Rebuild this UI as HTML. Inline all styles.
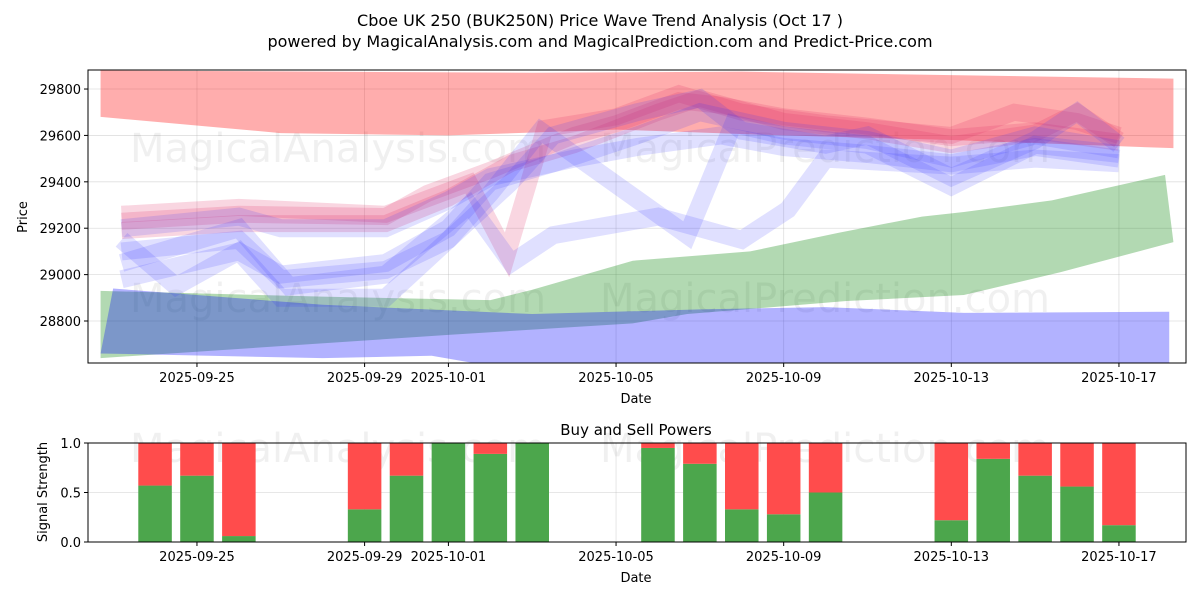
<!DOCTYPE html>
<html><head><meta charset="utf-8"><style>
body{margin:0;background:#fff;font-family:"Liberation Sans","DejaVu Sans",sans-serif}
svg text{font-family:"DejaVu Sans","Liberation Sans",sans-serif}
</style></head><body>
<svg id="chart" width="1200" height="600" xmlns="http://www.w3.org/2000/svg">
<text x="600" y="26" text-anchor="middle" font-size="16">Cboe UK 250 (BUK250N) Price Wave Trend Analysis (Oct 17 )</text>
<text x="600" y="47" text-anchor="middle" font-size="16">powered by MagicalAnalysis.com and MagicalPrediction.com and Predict-Price.com</text>
<g id="topPanel"></g>
<g id="botPanel"></g>
</svg>
<script>
const NS="http://www.w3.org/2000/svg";
// ---- data ----
const tickDates=["2025-09-25","2025-09-29","2025-10-01","2025-10-05","2025-10-09","2025-10-13","2025-10-17"];
const tickDays=[0,4,6,10,14,18,22];
const priceTicks=[28800,29000,29200,29400,29600,29800];
const redUpperD=[-2.3,3,8,13,18,23.3];
const redUpper=[29880,29875,29870,29875,29860,29845];
const redLowerD=[23.3,18,14,10,6,2,-2.3];
const redLower=[29545,29580,29600,29625,29600,29610,29680];
const greenUpperD=[-2.3,3,7,8,10.4,13.2,15.3,17.3,18.3,20.4,23.1];
const greenUpper=[28930,28905,28890,28935,29060,29100,29180,29250,29270,29320,29430];
const greenLowerD=[23.3,20.6,18.3,15.5,11.7,10.4,6,-2.3];
const greenLower=[29140,29010,28912,28886,28830,28790,28740,28640];
const blueUpperD=[-2.0,3,8,12,15,18.3,23.2];
const blueUpper=[28940,28870,28830,28850,28860,28835,28840];
const blueLowerD=[23.2,9,6.6,5.6,3,-2.3];
const blueLower=[28550,28560,28619,28650,28640,28660];
const pinkWaves=[
 [[-1.8,29230],[1,29260],[4.5,29250],[5.5,29350],[7,29450],[9,29600],[10,29650],[11.5,29750],[12.5,29730],[14,29680],[16,29640],[18,29590],[20,29620],[22,29570]],
 [[-1.8,29260],[1,29290],[4.5,29260],[6.5,29395],[7.4,29085],[8.3,29630],[10,29680],[11.5,29780],[13,29700],[15,29650],[18,29600],[19.5,29700],[21,29660],[22,29600]],
 [[-1.8,29190],[1,29220],[4.5,29220],[6,29330],[7.5,29480],[9,29560],[11,29700],[12,29760],[14,29660],[16,29620],[18,29560],[20,29610],[21,29700],[22,29580]]
];
const blueWaves=[
 [[-1.8,29200],[1,29250],[2,29200],[4.5,29200],[6,29320],[7,29420],[9,29500],[10.5,29550],[12.5,29600],[14,29550],[16,29520],[18,29480],[20,29550],[22,29500]],
 [[-1.8,29100],[1,29150],[2,28980],[4.5,29020],[6,29150],[7.5,29400],[8.5,29600],[10.5,29700],[12,29760],[13,29620],[15,29560],[16,29600],[18,29420],[20,29580],[21,29700],[22,29560]],
 [[-1.8,29150],[-0.5,28950],[1,29100],[2,28900],[4.5,28900],[6,29150],[7,29350],[8.2,29620],[11.7,29170],[12.8,29650],[14,29600],[16,29560],[18,29380],[20,29560],[22,29520]],
 [[-1.8,29050],[1,29200],[2.2,28950],[4.5,29000],[6.5,29300],[7.5,29050],[8.5,29170],[11,29250],[12,29200],[13,29150],[14.1,29280],[15,29500],[18,29470],[20,29500],[22,29480]],
 [[-1.8,28980],[1,29100],[2,29000],[4.5,29050],[6,29200],[7,29400],[8.5,29480],[10.5,29600],[12,29700],[14,29620],[16,29580],[18,29500],[20,29600],[22,29540]]
];
const barDays=[-1,0,1,4,5,6,7,8,11,12,13,14,15,18,19,20,21,22];
const buyVals=[0.57,0.67,0.06,0.33,0.67,1.0,0.89,1.0,0.95,0.79,0.33,0.28,0.5,0.22,0.84,0.67,0.56,0.17];
const sigTicks=[0,0.5,1.0];
// ---- axes ----
const L=88,R=1186,T1=70,B1=363,T2=443,B2=542;
const dMin=-2.6,dMax=23.6;
const X=d=>L+(d-dMin)/(dMax-dMin)*(R-L);
const pMin=28619,pMax=29882;
const Y=p=>B1-(p-pMin)/(pMax-pMin)*(B1-T1);
const Y2=v=>B2-v*(B2-T2);
function el(tag,attrs,parent,name,inter){const e=document.createElementNS(NS,tag);for(const k in attrs)e.setAttribute(k,attrs[k]);


parent.appendChild(e);return e;}
const topG=document.getElementById('topPanel'),botG=document.getElementById('botPanel');
const defs=el('defs',{},topG,'defs',false);
const cp=el('clipPath',{id:'c1'},defs,'clip',false);
el('rect',{x:L,y:T1,width:R-L,height:B1-T1},cp,'clip-rect',false);
// grid
tickDays.forEach((d,i)=>{el('line',{x1:X(d),x2:X(d),y1:T1,y2:B1,stroke:'#b0b0b0','stroke-opacity':0.4,'stroke-width':0.8},topG,'x-grid-line',false);
 el('line',{x1:X(d),x2:X(d),y1:T2,y2:B2,stroke:'#b0b0b0','stroke-opacity':0.4,'stroke-width':0.8},botG,'x-grid-line',false);});
priceTicks.forEach(p=>el('line',{x1:L,x2:R,y1:Y(p),y2:Y(p),stroke:'#b0b0b0','stroke-opacity':0.4,'stroke-width':0.8},topG,'y-grid-line',false));
sigTicks.forEach(v=>el('line',{x1:L,x2:R,y1:Y2(v),y2:Y2(v),stroke:'#b0b0b0','stroke-opacity':0.4,'stroke-width':0.8},botG,'y-grid-line',false));
// watermarks
[[130,162,'MagicalAnalysis.com'],[600,162,'MagicalPrediction.com'],[130,312,'MagicalAnalysis.com'],[600,312,'MagicalPrediction.com'],[130,462,'MagicalAnalysis.com'],[600,462,'MagicalPrediction.com']].forEach(w=>{
 const t=el('text',{x:w[0],y:w[1],'font-size':40,fill:'#000','fill-opacity':0.06},topG,'watermark',false);t.textContent=w[2];});
const g=el('g',{'clip-path':'url(#c1)'},topG,'plot-area',false);
function band(uD,u,lD,l,fill,op,name){const pts=uD.map((d,i)=>X(d)+','+Y(u[i])).concat(lD.map((d,i)=>X(d)+','+Y(l[i])));
 el('polygon',{points:pts.join(' '),fill:fill,'fill-opacity':op},g,name,false);}
band(redUpperD,redUpper,redLowerD,redLower,'#ff0000',0.32,'red-band');
band(greenUpperD,greenUpper,greenLowerD,greenLower,'#008000',0.3,'green-band');
band(blueUpperD,blueUpper,blueLowerD,blueLower,'#0000ff',0.3,'blue-band');
function wave(w,col,op,sw,name){el('polyline',{points:w.map(p=>X(p[0])+','+Y(p[1])).join(' '),fill:'none',stroke:col,'stroke-opacity':op,'stroke-width':sw,'stroke-linejoin':'miter'},g,name,false);}
pinkWaves.forEach(w=>wave(w,'#e0306a',0.2,17,'pink-wave'));
blueWaves.forEach(w=>wave(w,'#3030ff',0.15,18,'blue-wave'));
// top axes frame & ticks
el('rect',{x:L,y:T1,width:R-L,height:B1-T1,fill:'none',stroke:'#000','stroke-width':1},topG,'price-axes-frame',false);
tickDays.forEach((d,i)=>{el('line',{x1:X(d),x2:X(d),y1:B1,y2:B1+4,stroke:'#000'},topG,'x-tick',false);
 const t=el('text',{x:X(d),y:B1+19,'text-anchor':'middle','font-size':13},topG,'x-tick-label',false);t.textContent=tickDates[i];
 el('line',{x1:X(d),x2:X(d),y1:B2,y2:B2+4,stroke:'#000'},botG,'x-tick',false);
 const t2=el('text',{x:X(d),y:B2+19,'text-anchor':'middle','font-size':13},botG,'x-tick-label',false);t2.textContent=tickDates[i];});
priceTicks.forEach(p=>{el('line',{x1:L-4,x2:L,y1:Y(p),y2:Y(p),stroke:'#000'},topG,'y-tick',false);
 const t=el('text',{x:L-7,y:Y(p)+5,'text-anchor':'end','font-size':13},topG,'y-tick-label',false);t.textContent=p;});
let t=el('text',{x:636,y:403,'text-anchor':'middle','font-size':13},topG,'x-axis-title',false);t.textContent='Date';
t=el('text',{x:27,y:217,'text-anchor':'middle','font-size':13,transform:'rotate(-90 27 217)'},topG,'y-axis-title',false);t.textContent='Price';
// bottom bars
const bw=0.8*(X(1)-X(0));
barDays.forEach((d,i)=>{const v=buyVals[i];
 el('rect',{x:X(d)-bw/2,y:Y2(v),width:bw,height:Y2(0)-Y2(v),fill:'#4ca64c'},botG,'buy-bar',false);
 el('rect',{x:X(d)-bw/2,y:Y2(1),width:bw,height:Y2(v)-Y2(1),fill:'#ff4c4c'},botG,'sell-bar',false);});
el('rect',{x:L,y:T2,width:R-L,height:B2-T2,fill:'none',stroke:'#000','stroke-width':1},botG,'signal-axes-frame',false);
sigTicks.forEach(v=>{el('line',{x1:L-4,x2:L,y1:Y2(v),y2:Y2(v),stroke:'#000'},botG,'y-tick',false);
 const t=el('text',{x:L-7,y:Y2(v)+5,'text-anchor':'end','font-size':13},botG,'y-tick-label',false);t.textContent=v.toFixed(1);});
t=el('text',{x:636,y:435,'text-anchor':'middle','font-size':15},botG,'signal-title',false);t.textContent='Buy and Sell Powers';
t=el('text',{x:636,y:582,'text-anchor':'middle','font-size':13},botG,'x-axis-title',false);t.textContent='Date';
t=el('text',{x:47,y:492,'text-anchor':'middle','font-size':13,transform:'rotate(-90 47 492)'},botG,'y-axis-title',false);t.textContent='Signal Strength';
</script>
</body></html>
